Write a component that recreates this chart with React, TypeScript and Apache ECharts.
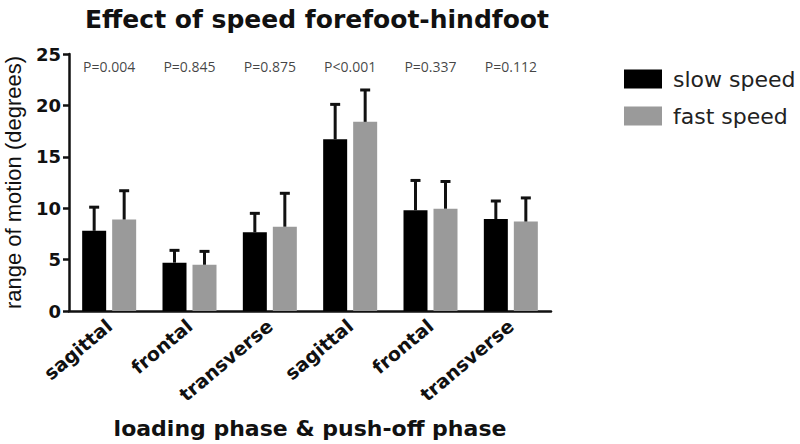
import React, { useEffect, useRef } from "react";
import * as echarts from "echarts";

const categories = ["sagittal", "frontal", "transverse", "sagittal", "frontal", "transverse"];
const slowMean = [7.8, 4.7, 7.65, 16.7, 9.8, 8.95];
const slowSD = [2.3, 1.2, 1.85, 3.4, 2.9, 1.75];
const fastMean = [8.9, 4.5, 8.2, 18.4, 9.95, 8.7];
const fastSD = [2.8, 1.3, 3.25, 3.1, 2.65, 2.3];
const pValues = ["P=0.004", "P=0.845", "P=0.875", "P<0.001", "P=0.337", "P=0.112"];
const pLabelLevel = 23.75;
const yTicks = [0, 5, 10, 15, 20, 25];

const BAR_W = 24;
const BAR_GAP = 6;
const BOLD_FONT = "DejaVu Sans";

function errorSeries(name: string, means: number[], sds: number[], offset: number) {
  return {
    type: "custom",
    name: name + " err",
    z: 5,
    silent: true,
    data: means.map((m, i) => [i, m, m + sds[i]]),
    renderItem: (params: any, api: any) => {
      const c = api.value(0);
      const base = api.coord([c, api.value(1)]);
      const top = api.coord([c, api.value(2)]);
      const x = base[0] + offset;
      return {
        type: "group",
        children: [
          { type: "line", shape: { x1: x, y1: base[1], x2: x, y2: top[1] }, style: { stroke: "#111", lineWidth: 3 } },
          { type: "line", shape: { x1: x - 5, y1: top[1], x2: x + 5, y2: top[1] }, style: { stroke: "#111", lineWidth: 3 } },
        ],
      };
    },
  };
}

export default function App() {
  const ref = useRef<HTMLDivElement>(null);
  useEffect(() => {
    if (!ref.current) return;
    const chart = echarts.init(ref.current, null, { renderer: "svg" });
    const off = (BAR_W + BAR_GAP) / 2;
    chart.setOption({
      animation: false,
      backgroundColor: "#fff",
      title: {
        text: "Effect of speed forefoot-hindfoot",
        left: 312,
        textAlign: "center",
        top: 2,
        textStyle: { fontFamily: BOLD_FONT, fontWeight: "bold", fontSize: 25, color: "#111" },
      },
      legend: {
        data: ["slow speed", "fast speed"],
        orient: "vertical",
        left: 619,
        top: 63,
        itemWidth: 38,
        itemHeight: 19,
        itemGap: 15,
        icon: "rect",
        textStyle: { fontFamily: "DejaVu Sans", fontSize: 22, color: "#222", padding: [0, 0, 0, 6] },
      },
      grid: { left: 69, right: 249, top: 54, bottom: 133, containLabel: false, outerBoundsMode: "none" },
      xAxis: {
        type: "category",
        data: categories,
        axisLine: { lineStyle: { color: "#111", width: 2.5 } },
        axisTick: { alignWithLabel: true, length: 6, lineStyle: { color: "#111", width: 2.5 } },
        axisLabel: {
          rotate: 40,
          margin: 12,
          fontFamily: BOLD_FONT,
          fontWeight: "bold",
          fontSize: 19,
          color: "#111",
        },
        name: "loading phase & push-off phase",
        nameLocation: "middle",
        nameGap: 106,
        nameTextStyle: { fontFamily: BOLD_FONT, fontWeight: "bold", fontSize: 22, color: "#111" },
      },
      yAxis: {
        type: "value",
        min: yTicks[0],
        max: yTicks[yTicks.length - 1],
        interval: 5,
        splitLine: { show: false },
        axisLine: { show: true, lineStyle: { color: "#111", width: 2.5 } },
        axisTick: { show: true, length: 6, lineStyle: { color: "#111", width: 2.5 } },
        axisLabel: { fontFamily: BOLD_FONT, fontWeight: "bold", fontSize: 18, color: "#111", margin: 8 },
        name: "range of motion (degrees)",
        nameLocation: "middle",
        nameGap: 45,
        nameTextStyle: { fontFamily: "Liberation Sans", fontSize: 22, color: "#111" },
      },
      series: [
        {
          type: "bar",
          name: "slow speed",
          data: slowMean,
          barWidth: BAR_W,
          barGap: (BAR_GAP / BAR_W) * 100 + "%",
          itemStyle: { color: "#000" },
        },
        {
          type: "bar",
          name: "fast speed",
          data: fastMean,
          barWidth: BAR_W,
          itemStyle: { color: "#9a9a9a" },
        },
        errorSeries("slow speed", slowMean, slowSD, -off),
        errorSeries("fast speed", fastMean, fastSD, off),
        {
          type: "scatter",
          name: "p",
          silent: true,
          symbolSize: 0,
          data: pValues.map((_, i) => [i, pLabelLevel]),
          label: {
            show: true,
            position: "inside",
            formatter: (p: any) => pValues[p.dataIndex],
            fontFamily: "Open Sans",
            fontSize: 14,
            color: "#111",
          },
        },
      ],
    });
    return () => chart.dispose();
  }, []);
  return <div ref={ref} style={{ width: 800, height: 444, position: "absolute", left: 0, top: 0 }} />;
}
